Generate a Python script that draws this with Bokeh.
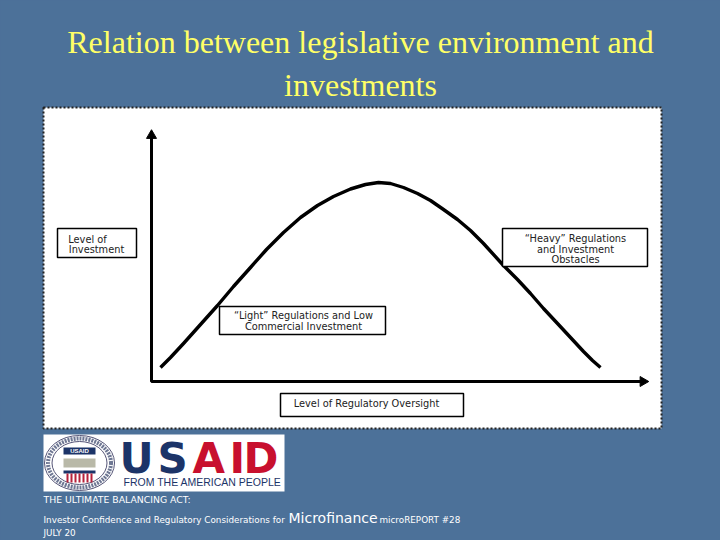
from bokeh.plotting import figure
from bokeh.embed import file_html
from bokeh.resources import INLINE
from bokeh.core.properties import value
from bokeh.models import Range1d

# Data
curve_x = [160,170,183,200,217,233,250,266,283,300,317,333,350,365,378,390,403,417,430,443,457,470,483,503,517,530,543,557,570,583,592,600]
curve_y = [367,357,343,324,305,286,267,249,232,217,205,196,188.5,184,182,183,187,193,200,209,219,230,243,265,279,293,308,323,337,351,360,367]
axis_x = [151,151,645]
axis_y = [134,381,381]
title_lines = ["Relation between legislative environment and", "investments"]
title_x = [360,360]
title_y = [41.5,84.5]
box_left = [57,219,502,280]
box_right = [136,385,647,463]
box_top = [228,306,228,393]
box_bottom = [257,334,266,416]
label_lines = ["Level of","Investment","\u201cLight\u201d Regulations and Low","Commercial Investment",
               "\u201cHeavy\u201d Regulations","and Investment","Obstacles","Level of Regulatory Oversight"]
label_x = [87,96,303,303,575,575,575,366]
label_y = [239,249,315,326,238,249,259,403]
foot_lines = ["Investor Confidence and Regulatory Considerations for","microREPORT #28","JULY 20"]
foot_x = [43,379,43]
foot_y = [519,519,532]
logo_letters = ["U","S","A","I","D"]
logo_x = [119,157,192,229,243]
logo_colors = ["#1c3468","#1c3468","#c8102e","#c8102e","#c8102e"]

p = figure(width=720, height=540, output_backend="svg", toolbar_location=None,
           x_range=Range1d(0,720), y_range=Range1d(540,0), min_border=0,
           background_fill_color="#4c7199", border_fill_color="#4c7199", outline_line_color=None)
p.axis.visible = False
p.grid.visible = False

# chart panel
p.quad(left=[43],right=[661],top=[107],bottom=[428],fill_color="white",
       line_color="#222222",line_width=2,line_dash="2 2")
# axes and curve
p.line(axis_x,axis_y,line_color="black",line_width=3)
p.scatter([151],[135],marker="triangle",size=10,color="black")
p.scatter([642.5],[381],marker="triangle",size=10,color="black",angle=-1.5708)
p.line(curve_x,curve_y,line_color="black",line_width=3.4,line_join="round")
# boxes
p.quad(left=box_left,right=box_right,top=box_top,bottom=box_bottom,fill_color="white",line_color="black",line_width=1.5)
p.text(label_x,label_y,text=label_lines,text_font=value("DejaVu Sans"),text_font_size="9.8px",
       text_align="center",text_baseline="middle",text_color="#222222")
# title
p.text(title_x,title_y,text=title_lines,text_font=value("Liberation Serif"),text_font_size="32px",
       text_align="center",text_baseline="middle",text_color="#ffff66")
# logo
p.quad(left=[43],right=[284],top=[434],bottom=[491],fill_color="white",line_color=None)
p.ellipse([79],[462.5],width=70,height=55,fill_color="white",line_color="#555577",line_width=1)
p.ellipse([79],[462.5],width=63,height=49,fill_color=None,line_color="#4a5578",line_width=4,line_dash="2 1",line_alpha=0.8)
p.ellipse([79],[462.5],width=55,height=43,fill_color="white",line_color="#555577",line_width=1)
p.quad(left=[63],right=[95],top=[447],bottom=[454],fill_color="#1c3468",line_color=None)
p.text([79],[450.5],text=["USAID"],text_font=value("Liberation Sans"),text_font_size="6px",text_font_style="bold",
       text_align="center",text_baseline="middle",text_color="white")
p.quad(left=[63],right=[95],top=[458],bottom=[467],fill_color="#b9b9a8",line_color=None)
p.quad(left=[63],right=[95],top=[470],bottom=[473],fill_color="#1c3468",line_color=None)
p.quad(left=[66,70,74,78,82,86,90],right=[68,72,76,80,84,88,92],top=[473]*7,bottom=[482]*7,fill_color="#b5213a",line_color=None)
p.text(logo_x,[457.5]*5,text=logo_letters,text_color=logo_colors,text_font=value("DejaVu Sans"),text_font_size="42px",text_font_style="bold",
       text_baseline="middle")
p.text([123],[481.5],text=["FROM THE AMERICAN PEOPLE"],text_font=value("Liberation Sans"),text_font_size="10.5px",
       text_baseline="middle",text_color="#1c3468")
# footer
p.text([43],[499],text=["THE ULTIMATE BALANCING ACT:"],text_font=value("DejaVu Sans"),text_font_size="9.3px",
       text_baseline="middle",text_color="white")
p.text(foot_x,foot_y,text=foot_lines,text_font=value("DejaVu Sans"),text_font_size="8.8px",
       text_baseline="middle",text_color="white")
p.text([288],[517],text=["Microfinance"],text_font=value("DejaVu Sans"),text_font_size="14px",
       text_baseline="middle",text_color="white")

html = file_html(p, INLINE).replace("<body>", '<body style="background:#4c7199">')
open("out.html", "w").write(html)
